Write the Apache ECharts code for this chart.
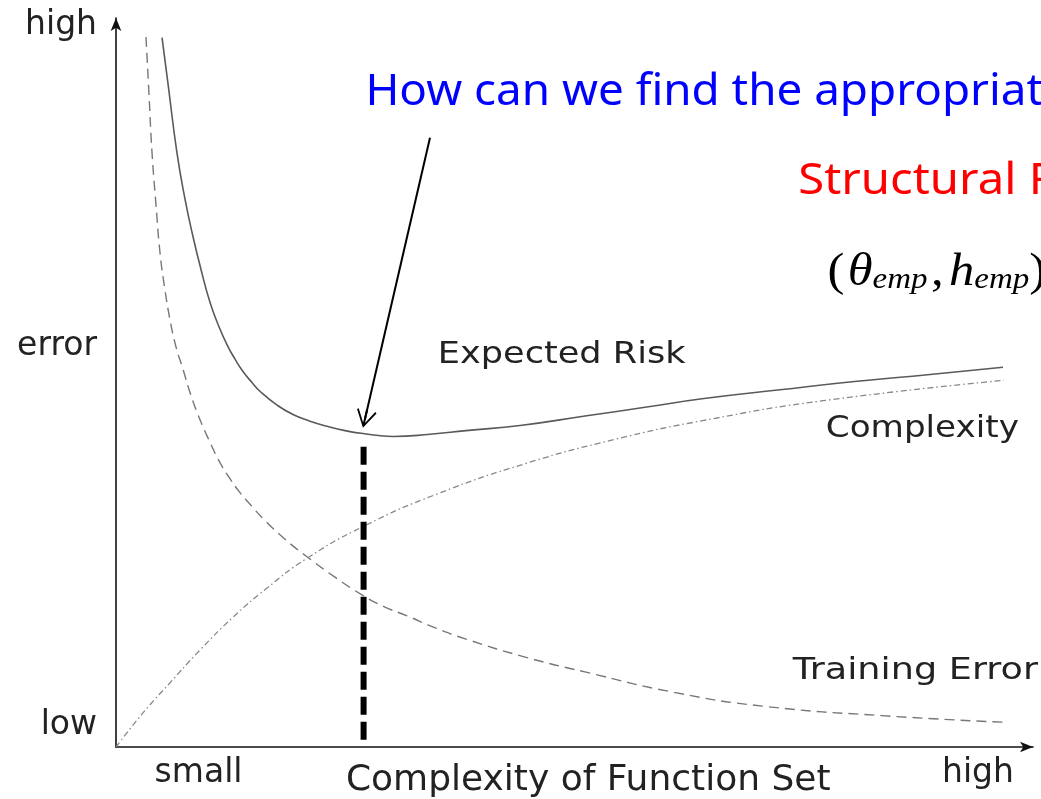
<!DOCTYPE html>
<html><head><meta charset="utf-8">
<script src="https://cdn.jsdelivr.net/npm/echarts@6/dist/echarts.min.js"></script>
<style>html,body{margin:0;padding:0;background:#fff}#c{width:1041px;height:799px}</style>
</head><body><div id="c"></div>
<script>
// ---- data (x: complexity of function set 0..100, y: error 0..100) ----
const riskX = [5.02, 5.67, 6.65, 7.52, 8.40, 9.27, 10.25, 11.12, 12.10, 12.98, 13.85, 14.83, 15.70, 17.45, 19.30, 21.16, 23.01, 24.97, 26.94, 30.21, 34.24, 38.17, 44.06, 51.14, 57.69, 64.12, 72.41, 80.26, 88.77, 96.73];
const riskY = [97.3, 91.0, 81.5, 75.2, 70.0, 65.5, 61.0, 58.0, 55.2, 53.2, 51.5, 50.0, 48.8, 47.0, 45.6, 44.7, 44.0, 43.4, 43.0, 42.6, 42.9, 43.4, 44.1, 45.4, 46.6, 47.8, 49.0, 50.1, 51.1, 52.1];
const trainX = [3.27, 3.60, 3.93, 4.36, 4.80, 5.34, 5.89, 6.54, 7.31, 8.18, 9.16, 10.25, 11.34, 12.43, 13.52, 14.83, 16.14, 18.43, 20.72, 23.88, 27.04, 29.33, 31.73, 34.90, 38.17, 44.71, 51.14, 60.85, 70.56, 83.53, 96.84];
const trainY = [97.4, 89.5, 81.5, 74.4, 67.8, 62.7, 58.6, 54.9, 51.8, 48.2, 44.9, 41.8, 39.0, 36.8, 34.9, 33.0, 31.2, 28.5, 26.2, 23.3, 20.7, 19.2, 18.0, 16.3, 14.8, 12.3, 10.3, 7.5, 5.6, 4.3, 3.4];
const complexX = [0, 1.85, 3.71, 5.67, 9.16, 12.76, 16.47, 20.72, 27.04, 35.01, 44.71, 54.42, 64.12, 77.10, 96.84];
const complexY = [0, 3.0, 5.8, 8.5, 13.3, 17.8, 21.8, 25.8, 30.3, 34.7, 38.9, 42.2, 44.8, 47.5, 50.3];
const optimumX = [27, 27];
const optimumY = [1, 42];
const arrowFrom = [34.24, 83.56];
const arrowTo = [27.15, 45.0];
const yTickValues = [3, 55, 99];
const yTickLabels = ['low', 'error', 'high'];
const xTickValues = [9, 51.5, 94];
const xTickLabels = ['small', 'Complexity of Function Set', 'high'];
const curveNames = ['Expected Risk', 'Complexity', 'Training Error'];
const questionText = 'How can we find the appropriate h?';
const srmText = 'Structural Risk Minimization';

const zip = (xs, ys) => xs.map((x, i) => [x, ys[i]]);
const labelFont = 'DejaVu Sans';

const chart = echarts.init(document.getElementById('c'), null, {renderer: 'canvas'});
chart.setOption({
  animation: false,
  backgroundColor: '#ffffff',
  grid: {left: 116, right: 8, top: 18, bottom: 51, containLabel: false},
  xAxis: {
    type: 'value', min: 0, max: 100, interval: 0.5,
    axisLine: {show: true, symbol: ['none', 'arrow'], symbolSize: [8, 13], lineStyle: {color: '#111', width: 1.6}},
    axisTick: {show: false}, splitLine: {show: false},
    axisLabel: {
      margin: 10, fontFamily: labelFont, fontSize: 33, color: '#222',
      rich: {m: {fontFamily: labelFont, fontSize: 36, color: '#222', padding: [6, 0, 0, 0]}},
      formatter: v => {
        const i = xTickValues.indexOf(v);
        if (i < 0) return '';
        return i === 1 ? '{m|' + xTickLabels[i] + '}' : xTickLabels[i];
      }
    }
  },
  yAxis: {
    type: 'value', min: 0, max: 100, interval: 1,
    axisLine: {show: true, symbol: ['none', 'arrow'], symbolSize: [8, 13], lineStyle: {color: '#111', width: 1.6}},
    axisTick: {show: false}, splitLine: {show: false},
    axisLabel: {
      margin: 19, fontFamily: labelFont, fontSize: 33, color: '#222',
      rich: {lo: {fontFamily: labelFont, fontSize: 33, color: '#222', padding: [0, 0, 0, 16]}},
      formatter: v => {
        const i = yTickValues.indexOf(v);
        if (i < 0) return '';
        return i === 0 ? '{lo|' + yTickLabels[i] + '}' : yTickLabels[i];
      }
    }
  },
  series: [
    {name: curveNames[0], type: 'line', data: zip(riskX, riskY), smooth: 0.5, symbol: 'none',
     lineStyle: {color: '#5a5a5a', width: 1.6}},
    {name: curveNames[2], type: 'line', data: zip(trainX, trainY), smooth: 0.5, symbol: 'none',
     lineStyle: {color: '#777', width: 1.4, type: [10, 6]}},
    {name: curveNames[1], type: 'line', data: zip(complexX, complexY), smooth: 0.5, symbol: 'none',
     lineStyle: {color: '#888', width: 1.3, type: [6, 3, 1.5, 3]}},
    {name: 'optimum', type: 'line', data: zip(optimumX, optimumY), symbol: 'none',
     lineStyle: {color: '#000', width: 6, type: [18, 7]},
     markLine: {
       silent: true, animation: false,
       symbol: ['none', 'path://M10,0 L20,17 L18.5,18 L11,5 L11,18 L9,18 L9,5 L1.5,18 L0,17 Z'],
       symbolSize: [20, 18],
       label: {show: false},
       lineStyle: {color: '#000', width: 2, type: 'solid'},
       data: [[{coord: arrowFrom}, {coord: arrowTo}]]
     }}
  ]
});

const annotations = [
  {at: [35.1, 53.8], text: curveNames[0], font: labelFont, size: 30, color: '#222', sx: 1.17},
  {at: [77.4, 43.6], text: curveNames[1], font: labelFont, size: 30, color: '#222', sx: 1.14},
  {at: [73.8, 10.4], text: curveNames[2], font: labelFont, size: 30, color: '#222', sx: 1.22},
  {at: [27.2, 89.8], text: questionText, font: 'Noto Sans', size: 43, color: '#0000ff', sx: 1.065},
  {at: [74.4, 77.6], text: srmText, font: 'Noto Sans', size: 43, color: '#ff0000', sx: 1.1}
];
const graphics = annotations.map(a => {
  const p = chart.convertToPixel({gridIndex: 0}, a.at);
  return {type: 'text', x: p[0], y: p[1], scaleX: a.sx, z: 100,
    style: {text: a.text, fontFamily: a.font, fontSize: a.size, fill: a.color, verticalAlign: 'middle', align: 'left'}};
});
const fp = chart.convertToPixel({gridIndex: 0}, [77.6, 65.5]);
graphics.push({type: 'text', x: fp[0], y: fp[1], scaleX: 1.1, z: 100, style: {
  text: '{p|(}{v|θ}{s|emp}{c|,}{h|h}{s|emp}{p|)}',
  verticalAlign: 'middle', align: 'left',
  rich: {
    p: {fontFamily: 'Liberation Serif', fontSize: 46, fill: '#000', lineHeight: 52, verticalAlign: 'bottom'},
    v: {fontFamily: 'Liberation Serif', fontStyle: 'italic', fontSize: 46, fill: '#000', lineHeight: 52, verticalAlign: 'bottom', padding: [0, 0, 0, 3]},
    c: {fontFamily: 'Liberation Serif', fontSize: 46, fill: '#000', lineHeight: 52, verticalAlign: 'bottom', padding: [0, 0, 0, 3]},
    h: {fontFamily: 'Liberation Serif', fontStyle: 'italic', fontSize: 46, fill: '#000', lineHeight: 52, verticalAlign: 'bottom', padding: [0, 0, 0, 5]},
    s: {fontFamily: 'Liberation Serif', fontStyle: 'italic', fontSize: 30, fill: '#000', lineHeight: 52, verticalAlign: 'bottom', padding: [16, 0, 0, 0]}
  }
}});
chart.setOption({graphic: graphics});
</script>
</body></html>
